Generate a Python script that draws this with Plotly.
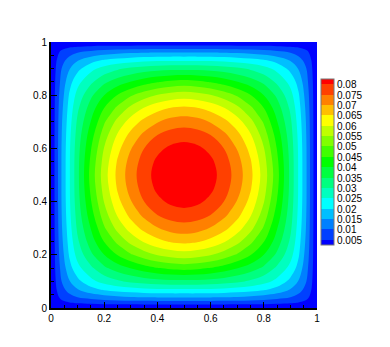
"""Filled contour of a field on the unit square"""

import numpy as np
import plotly.graph_objects as go

# grid positions of the lower-left quadrant, mirrored below
grid_half = [0, 0.02, 0.04, 0.07, 0.1, 0.15, 0.2, 0.25, 0.3, 0.35, 0.4, 0.45, 0.5]

field_half = [
    [0, 0, 0, 0, 0, 0, 0, 0, 0, 0, 0, 0, 0],
    [0, 24, 37, 48, 56, 64, 69, 71, 73, 74, 75, 75, 75],
    [0, 37, 62, 84, 100, 116, 128, 138, 145, 149, 152, 153, 153],
    [0, 48, 84, 120, 148, 183, 208, 222, 232, 240, 245, 247, 247],
    [0, 56, 100, 148, 185, 235, 268, 292, 310, 322, 331, 336, 337],
    [0, 64, 116, 183, 235, 290, 340, 375, 402, 428, 447, 461, 468],
    [0, 69, 128, 208, 268, 340, 400, 452, 494, 527, 553, 570, 578],
    [0, 71, 138, 222, 292, 375, 452, 512, 565, 605, 635, 655, 663],
    [0, 73, 145, 232, 310, 402, 494, 565, 622, 665, 697, 719, 727],
    [0, 74, 149, 240, 322, 428, 527, 605, 665, 712, 750, 772, 780],
    [0, 75, 152, 245, 331, 447, 553, 635, 697, 750, 788, 810, 818],
    [0, 75, 153, 247, 336, 461, 570, 655, 719, 772, 810, 833, 840],
    [0, 75, 153, 247, 337, 468, 578, 663, 727, 780, 818, 840, 848],
]

band_colors = [
    '#0000ff', '#0040ff', '#0080ff', '#00bfff', '#00ffff', '#00ffbf',
    '#00ff80', '#00ff40', '#00ff00', '#40ff00', '#80ff00', '#bfff00',
    '#ffff00', '#ffbf00', '#ff8000', '#ff4000', '#ff0000',
]
level_labels = ['0.005', '0.01', '0.015', '0.02', '0.025', '0.03', '0.035', '0.04',
                '0.045', '0.05', '0.055', '0.06', '0.065', '0.07', '0.075', '0.08']
level_values = [0.005, 0.01, 0.015, 0.02, 0.025, 0.03, 0.035, 0.04,
                0.045, 0.05, 0.055, 0.06, 0.065, 0.07, 0.075, 0.08]

# 데이터 준비: mirror the quadrant
half = np.array(grid_half)
grid = np.concatenate([half, 1 - half[-2::-1]])
quad = np.array(field_half) * 1e-4
top = np.hstack([quad, quad[:, -2::-1]])
field = np.vstack([top, top[-2::-1, :]])

# stepped colour scale, one step per band
n = len(band_colors)
colorscale = []
for i, c in enumerate(band_colors):
    colorscale.append([i / n, c])
    colorscale.append([(i + 1) / n, c])

font = dict(family='Liberation Sans, Arial, sans-serif', size=10, color='black')

fig = go.Figure(go.Contour(
    x=grid,
    y=grid,
    z=field,
    colorscale=colorscale,
    zauto=False,
    zmin=0.0025,
    zmax=0.0825,
    autocontour=False,
    contours=dict(start=0.005, end=0.08, size=0.005, coloring='fill', showlines=False),
    line=dict(width=0, smoothing=1),
    colorbar=dict(
        x=1.015,
        xanchor='left',
        y=0.547,
        yanchor='middle',
        thickness=13,
        len=166,
        lenmode='pixels',
        outlinecolor='#777777',
        outlinewidth=1,
        tickmode='array',
        tickvals=level_values,
        ticktext=level_labels,
        ticks='',
        tickfont=font,
        xpad=0,
        ypad=0,
    ),
))

axis_style = dict(
    range=[0, 1],
    tick0=0,
    dtick=0.2,
    ticks='inside',
    ticklen=6,
    tickwidth=1,
    tickcolor='black',
    minor=dict(dtick=0.05, tick0=0, ticks='inside', ticklen=3, tickwidth=1, tickcolor='black'),
    showline=True,
    linecolor='black',
    linewidth=2,
    showgrid=False,
    zeroline=False,
    tickfont=font,
)
fig.update_xaxes(**axis_style)
fig.update_yaxes(**axis_style)

# the page body adds 8px on the top and left
fig.update_layout(
    width=382,
    height=339,
    autosize=False,
    margin=dict(l=43, r=73, t=34, b=39),
    paper_bgcolor='white',
    plot_bgcolor='white',
    font=font,
)

fig.write_html("out.html")
